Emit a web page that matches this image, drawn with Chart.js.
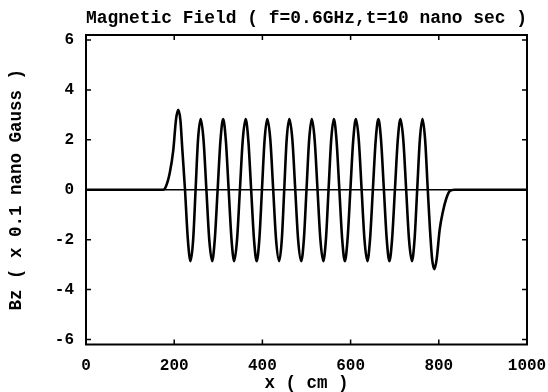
<!DOCTYPE html>
<html>
<head>
<meta charset="utf-8">
<script src="https://cdn.jsdelivr.net/npm/chart.js@4/dist/chart.umd.min.js"></script>
<style>
html,body{margin:0;padding:0;background:#fff;}
#wrap{width:548px;height:392px;}
</style>
</head>
<body>
<div id="wrap"><canvas id="c" width="548" height="392"></canvas></div>
<script>
// Data (x in cm, Bz in 0.1 nano Gauss)
const xPositions = [
  0, 165, 175, 181, 190, 198, 204, 209, 214, 218.5, 224.5,
  231, 237, 243, 248.5, 254, 260, 266.5, 273, 279.5, 286, 292, 298.5,
  305, 311, 317, 323.5, 330, 336, 342.5, 349, 355.5, 362, 368, 374.5,
  381, 387, 393, 399, 405, 411, 418, 424.5, 431, 438, 444, 449.5,
  455, 461, 468, 474.5, 481, 488, 494, 500, 506, 512, 518.5, 525,
  531.5, 538, 544, 550, 556, 562, 568, 574.5, 581, 587, 593, 599.5,
  606, 612, 618.5, 625, 631.5, 638, 644, 650.5, 657, 663, 669, 675.5,
  682, 688, 694, 700.5, 707, 713, 719.5, 726, 732.5, 739, 745, 751,
  757, 763, 769, 775, 780, 785, 790, 795, 802, 809, 817, 825, 835, 1000
];
const bzValues = [
  0, 0, 0, 0.12, 0.68, 1.6, 2.8, 3.2, 2.8, 1.6, 0,
  -2.0, -2.86, -2.0, 0, 2.0, 2.83, 2.0, 0, -2.0, -2.86, -2.0, 0,
  2.0, 2.83, 2.0, 0, -2.0, -2.86, -2.0, 0, 2.0, 2.83, 2.0, 0,
  -2.0, -2.86, -2.0, 0, 2.0, 2.83, 2.0, 0, -2.0, -2.86, -2.0, 0,
  2.0, 2.83, 2.0, 0, -2.0, -2.86, -2.0, 0, 2.0, 2.83, 2.0, 0,
  -2.0, -2.86, -2.0, 0, 2.0, 2.83, 2.0, 0, -2.0, -2.86, -2.0, 0,
  2.0, 2.83, 2.0, 0, -2.0, -2.86, -2.0, 0, 2.0, 2.83, 2.0, 0,
  -2.0, -2.86, -2.0, 0, 2.0, 2.83, 2.0, 0, -2.0, -2.86, -2.0, 0,
  2.0, 2.83, 2.0, 0, -1.6, -2.8, -3.18, -2.8, -1.6, -0.9, -0.35, -0.05, 0, 0
];
const xTicks = [0, 200, 400, 600, 800, 1000];
const yTicks = [-6, -4, -2, 0, 2, 4, 6];
const titleText = 'Magnetic Field ( f=0.6GHz,t=10 nano sec )';
const xTitle = 'x ( cm )';
const yTitle = 'Bz ( x 0.1 nano Gauss )';

const FONT = "'Liberation Mono', 'DejaVu Sans Mono', monospace";

const framePlugin = {
  id: 'frame',
  afterDatasetsDraw(chart) {
    const {ctx, chartArea: a, scales} = chart;
    ctx.save();
    ctx.strokeStyle = '#000';
    ctx.lineWidth = 2;
    ctx.strokeRect(a.left, a.top, a.right - a.left, a.bottom - a.top);
    ctx.lineWidth = 1.5;
    const L = 5;
    ctx.beginPath();
    xTicks.forEach(v => {
      const px = scales.x.getPixelForValue(v);
      ctx.moveTo(px, a.bottom); ctx.lineTo(px, a.bottom - L);
      ctx.moveTo(px, a.top); ctx.lineTo(px, a.top + L);
    });
    yTicks.forEach(v => {
      const py = scales.y.getPixelForValue(v);
      ctx.moveTo(a.left, py); ctx.lineTo(a.left + L, py);
      ctx.moveTo(a.right, py); ctx.lineTo(a.right - L, py);
    });
    ctx.stroke();
    ctx.restore();
  }
};

new Chart(document.getElementById('c'), {
  type: 'line',
  data: {
    datasets: [{
      data: xPositions.map((x, i) => ({x: x, y: bzValues[i]})),
      borderColor: '#000',
      borderWidth: 2.6,
      pointRadius: 0,
      cubicInterpolationMode: 'monotone',
      fill: false
    }]
  },
  options: {
    responsive: false,
    animation: false,
    devicePixelRatio: 1,
    layout: {padding: {left: 0, right: 21, top: 0, bottom: 0}},
    plugins: {
      legend: {display: false},
      tooltip: {enabled: false},
      title: {
        display: true,
        fullSize: false,
        text: titleText,
        color: '#000',
        font: {family: FONT, size: 18, weight: 'bold', lineHeight: 1.2},
        padding: {top: 8, bottom: 5.4}
      }
    },
    scales: {
      x: {
        type: 'linear',
        min: 0, max: 1000,
        afterBuildTicks: s => { s.ticks = xTicks.map(v => ({value: v})); },
        afterFit: s => { s.height = 47.5; s.paddingLeft = 0; s.paddingRight = 0; },
        grid: {display: false, drawTicks: false},
        border: {display: false},
        ticks: {color: '#000', padding: 12, maxRotation: 0, callback: v => String(v),
                font: {family: FONT, size: 16, weight: 'bold'}},
        title: {display: true, text: xTitle, color: '#000', padding: {top: 0, bottom: 0},
                font: {family: FONT, size: 17.5, weight: 'bold', lineHeight: 1}}
      },
      y: {
        type: 'linear',
        min: -6.2, max: 6.2,
        afterBuildTicks: s => { s.ticks = yTicks.map(v => ({value: v})); },
        afterFit: s => { s.width = 86; s.paddingTop = 0; s.paddingBottom = 0; },
        grid: {
          drawTicks: false,
          color: c => (c.tick && c.tick.value === 0) ? '#000' : 'rgba(0,0,0,0)',
          lineWidth: c => (c.tick && c.tick.value === 0) ? 1.5 : 0
        },
        border: {display: false},
        ticks: {color: '#000', padding: 12, callback: v => String(v),
                font: {family: FONT, size: 16, weight: 'bold'}},
        title: {display: true, text: yTitle, color: '#000', padding: {top: 8, bottom: 0},
                font: {family: FONT, size: 17.5, weight: 'bold', lineHeight: 1}}
      }
    }
  },
  plugins: [framePlugin]
});
</script>
</body>
</html>
